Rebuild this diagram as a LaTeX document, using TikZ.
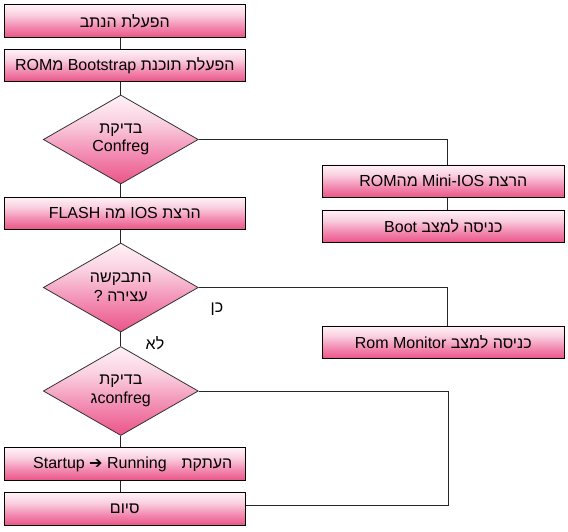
\documentclass[tikz,border=0pt]{standalone}
\usepackage{fontspec}
\setmainfont{Liberation Sans}
\newfontfamily\hebfont[Script=Hebrew]{Liberation Sans}
\newfontfamily\symfont{DejaVu Sans Bold}
\TeXXeTstate=1
\usetikzlibrary{shapes.geometric}
\pgfdeclareverticalshading{pinkgrad}{100bp}{rgb(0bp)=(0.92,0.33,0.53); rgb(25bp)=(0.92,0.33,0.53); rgb(42bp)=(0.95,0.55,0.70); rgb(60bp)=(0.98,0.82,0.88); rgb(75bp)=(1,0.95,0.97); rgb(100bp)=(1,0.95,0.97)}
\tikzset{
  txt/.style={font=\hebfont\fontsize{16}{18.5}\selectfont, text=black},
  fbox/.style={txt, draw=black, line width=0.8pt, shading=pinkgrad, minimum width=241pt, minimum height=32.5pt, inner sep=0pt},
  rbox/.style={fbox, minimum width=242pt},
  dec/.style={txt, diamond, draw=black!80, line width=0.8pt, shading=pinkgrad, minimum width=155pt, minimum height=89pt, aspect=1.74, inner sep=0pt, align=center},
  conn/.style={draw=black!85, line width=0.8pt},
  lbl/.style={txt, inner sep=0pt}
}
\begin{document}
\begin{tikzpicture}[x=1pt,y=-1pt]
\useasboundingbox[fill=white] (0,0) rectangle (568,531);
% left column
\node[fbox] (b1) at (124.8,21) {\beginR הפעלת הנתב\endR};
\node[fbox] (b2) at (124.8,65.5) {\beginR הפעלת תוכנת Bootstrap מ\beginL ROM\endL\endR};
\node[dec] (d1) at (120.8,139.5) {\beginR בדיקת\endR\\Confreg};
\node[fbox] (b3) at (124.8,213.3) {\beginR הרצת IOS מה FLASH\endR};
\node[dec] (d2) at (120.8,287.5) {\beginR התבקשה\endR\\\beginR עצירה ?\endR};
\node[dec] (d3) at (120.8,391) {\beginR בדיקת\endR\\\beginR\beginL confreg\endL ג\endR};
\node[fbox] (b4) at (124.8,464) {\kern16pt\beginR העתקת\kern15pt\beginL Startup {\symfont ➔} Running\endL\endR};
\node[fbox] (b5) at (124.8,509) {\beginR סיום\endR};
% right column
\node[rbox] (r1) at (443.3,181.2) {\beginR הרצת \beginL Mini-IOS\endL{} מה\beginL ROM\endL\endR};
\node[rbox] (r2) at (443.3,226.2) {\beginR כניסה למצב Boot\endR};
\node[rbox] (r3) at (443.3,342.2) {\beginR כניסה למצב \beginL Rom Monitor\endL\endR};
% labels
\node[lbl] (yes) at (217,309) {\beginR כן\endR};
\node[lbl] (no) at (155,343) {\beginR לא\endR};
% helper coordinates
\coordinate (k1) at (447.3,139.5);
\coordinate (k2) at (447.3,287.5);
\coordinate (k3) at (448,391);
\coordinate (k4) at (448,505);
% connectors
\draw[conn] (b1.south -| d1.north) -- (b2.north -| d1.north);
\draw[conn] (b2.south -| d1.north) -- (d1.north);
\draw[conn] (d1.south) -- (b3.north -| d1.south);
\draw[conn] (b3.south -| d2.north) -- (d2.north);
\draw[conn] (d2.south) -- (d3.north);
\draw[conn] (d3.south) -- (b4.north -| d3.south);
\draw[conn] (b4.south -| d3.south) -- (b5.north -| d3.south);
\draw[conn] (d1.east) -- (k1) -- (r1.north -| k1);
\draw[conn] (r1.south -| k1) -- (r2.north -| k1);
\draw[conn] (d2.east) -- (k2) -- (r3.north -| k2);
\draw[conn] (d3.east) -- (k3) -- (k4) -- (k4 -| b5.east);
\end{tikzpicture}
\end{document}
